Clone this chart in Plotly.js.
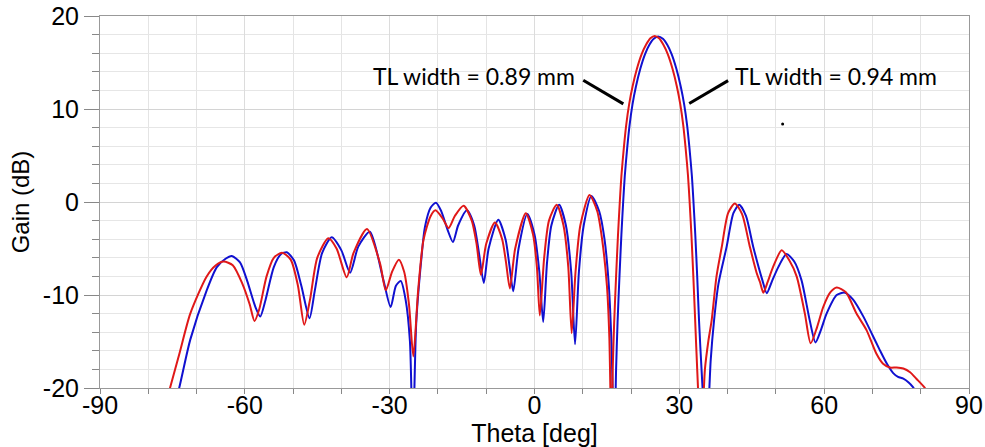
<!DOCTYPE html>
<html>
<head>
<meta charset="utf-8">
<script src="https://cdn.plot.ly/plotly-3.0.1.min.js"></script>
<style>html,body{margin:0;padding:0;background:#fff;}#chart{width:985px;height:447px;}</style>
</head>
<body>
<div id="chart"></div>
<script>
// TL width = 0.89 mm (red)
const redTheta = [-76.5,-75.5,-73.5,-71.3,-67.9,-66.0,-64.4,-62.5,-60.5,-59.0,-58.0,-57.0,-55.5,-54.0,-52.3,-50.5,-49.0,-47.7,-46.5,-45.0,-42.7,-41.0,-38.9,-37.5,-34.7,-32.0,-30.8,-29.5,-28.1,-27.0,-26.0,-25.1,-24.1,-23.0,-21.5,-20.5,-19.0,-17.8,-16.5,-14.7,-13.0,-12.0,-11.1,-10.0,-8.2,-6.7,-5.9,-5.1,-4.0,-1.8,-0.3,0.5,1.1,2.0,3.0,4.6,6.0,7.0,7.7,8.5,9.5,11.4,13.0,14.0,15.0,15.5,15.95,16.2,16.5,16.9,17.3,17.7,18.0,18.5,19.0,19.6,20.3,21.2,22.2,23.1,24.0,24.9,25.8,26.7,27.6,28.6,29.5,30.2,30.8,31.3,31.8,32.1,32.5,32.9,33.3,33.7,34.5,35.3,36.0,36.7,37.7,38.8,40.1,41.5,43.0,44.6,46.0,46.7,47.4,48.3,49.4,51.2,52.8,54.3,56.0,57.2,58.5,59.8,61.3,62.6,64.5,66.7,68.8,70.8,72.2,73.6,75.0,76.4,77.8,79.1,80.8,81.5];
const redGain  = [-21.8,-20.0,-16.2,-12.0,-8.0,-6.8,-6.4,-6.8,-8.8,-11.0,-12.8,-11.5,-8.0,-6.0,-5.45,-6.2,-9.0,-13.2,-10.5,-6.0,-3.9,-5.0,-8.1,-5.5,-2.9,-6.6,-9.5,-7.5,-6.2,-7.5,-11.0,-16.6,-9.5,-4.1,-1.5,-0.9,-1.8,-2.8,-1.5,-0.4,-2.0,-4.5,-7.85,-4.5,-2.2,-4.0,-6.5,-9.3,-5.0,-1.2,-3.5,-7.0,-12.2,-6.0,-2.0,-0.3,-2.5,-7.0,-14.1,-7.5,-2.5,0.75,-1.0,-4.0,-9.0,-14.5,-26.0,-18.0,-13.0,-8.0,-3.5,0.3,2.8,5.8,8.3,10.5,12.4,14.3,15.9,16.9,17.6,17.85,17.6,16.9,15.9,14.3,12.4,10.5,8.3,5.8,2.8,0.3,-3.5,-8.0,-13.0,-18.0,-26.0,-18.0,-15.0,-12.7,-8.0,-4.8,-1.2,-0.15,-1.3,-4.8,-7.6,-8.6,-9.75,-8.6,-7.0,-5.2,-6.3,-8.0,-12.0,-15.2,-13.5,-11.3,-9.7,-9.2,-9.7,-12.0,-13.8,-16.3,-17.4,-17.8,-17.8,-17.9,-18.3,-19.0,-19.95,-20.6];

// TL width = 0.94 mm (blue)
const blueTheta = [-74.6,-73.6,-71.3,-67.9,-65.8,-64.0,-62.7,-61.0,-59.5,-57.8,-56.8,-55.7,-54.0,-52.5,-51.3,-49.8,-48.3,-46.6,-45.5,-44.0,-42.0,-40.0,-38.2,-36.5,-34.1,-31.3,-29.8,-28.7,-27.7,-26.7,-25.8,-25.2,-24.5,-23.4,-22.7,-21.5,-20.4,-19.3,-18.0,-16.9,-15.8,-14.0,-12.5,-11.5,-10.5,-9.5,-7.5,-6.0,-5.2,-4.4,-3.3,-1.5,0.0,1.0,1.8,2.6,3.5,5.1,6.5,7.6,8.4,9.2,10.2,11.8,13.4,14.5,15.4,15.9,16.55,16.9,17.2,17.6,18.0,18.4,18.7,19.2,19.7,20.3,21.0,21.9,22.9,23.8,24.7,25.6,26.6,27.5,28.4,29.4,30.3,31.0,31.6,32.1,32.6,32.9,33.3,33.7,34.1,34.6,35.6,36.5,37.2,38.1,39.8,41.2,42.4,43.8,45.3,47.2,48.1,49.2,50.5,52.2,53.8,55.3,57.0,58.2,59.3,60.5,62.6,64.3,66.0,68.1,70.0,71.5,73.0,74.3,75.3,76.4,77.5,78.4,79.0];
const blueGain  = [-21.8,-20.0,-14.8,-9.5,-7.0,-6.1,-5.8,-6.5,-8.5,-11.3,-12.3,-10.5,-7.0,-5.6,-5.4,-6.3,-9.0,-12.5,-9.5,-5.5,-3.8,-5.2,-7.6,-4.8,-3.2,-8.4,-11.3,-9.0,-8.5,-10.5,-15.0,-26.0,-13.0,-5.9,-2.7,-0.6,-0.07,-1.0,-3.0,-4.3,-2.5,-0.9,-2.5,-5.5,-8.7,-5.0,-1.9,-4.0,-6.8,-9.6,-5.0,-1.3,-3.5,-7.5,-12.9,-6.5,-2.5,-0.3,-2.5,-7.5,-15.3,-7.5,-2.5,0.65,-1.0,-4.0,-9.0,-14.5,-26.0,-18.0,-13.0,-8.0,-3.5,0.3,2.8,5.8,8.3,10.5,12.4,14.3,15.9,16.9,17.55,17.8,17.55,16.9,15.9,14.3,12.4,10.5,8.3,5.8,2.8,0.3,-3.5,-8.0,-13.0,-18.0,-26.0,-17.0,-12.7,-8.8,-4.8,-1.2,-0.3,-1.5,-4.8,-8.4,-9.8,-8.5,-7.0,-5.6,-6.4,-8.4,-12.7,-15.1,-13.8,-12.0,-10.0,-9.75,-10.5,-12.3,-14.3,-15.9,-17.4,-18.4,-18.8,-19.0,-19.4,-19.9,-20.4];

const strayX = [51.4];
const strayY = [8.4];

const xTickVals = [-90,-60,-30,0,30,60,90];
const xTickText = ['-90','-60','-30','0','30','60','90'];
const yTickVals = [-20,-10,0,10,20];
const yTickText = ['-20','-10','0','10','20'];

const labelLeft = 'TL width = 0.89 mm';
const labelRight = 'TL width = 0.94 mm';

const data = [
  {x: blueTheta, y: blueGain, type: 'scatter', mode: 'lines', line: {color: '#1010d0', width: 2, shape: 'spline', smoothing: 0.7}, hoverinfo: 'skip'},
  {x: redTheta, y: redGain, type: 'scatter', mode: 'lines', line: {color: '#e01818', width: 2, shape: 'spline', smoothing: 0.7}, hoverinfo: 'skip'},
  {x: strayX, y: strayY, type: 'scatter', mode: 'markers', marker: {color: '#000', size: 3}, hoverinfo: 'skip'}
];

const tickFont = {family: 'Liberation Sans, Arial, sans-serif', size: 25, color: '#000'};

const layout = {
  width: 985, height: 447,
  margin: {l: 100, r: 16, t: 16, b: 59},
  paper_bgcolor: '#fff', plot_bgcolor: '#fff',
  showlegend: false,
  xaxis: {
    range: [-90, 90], tickmode: 'array', tickvals: xTickVals, ticktext: xTickText,
    ticks: 'outside', ticklen: 5, tickcolor: '#888', tickwidth: 1,
    ticklabelstandoff: -10,
    showgrid: true, gridcolor: '#dcdcdc', gridwidth: 1,
    minor: {tickmode: 'linear', tick0: 0, dtick: 10, ticks: 'outside', ticklen: 5, tickcolor: '#888', showgrid: true, gridcolor: '#e4e4e4', gridwidth: 1},
    showline: true, linecolor: '#999', linewidth: 1, mirror: true, zeroline: false,
    tickfont: tickFont,
    title: {text: 'Theta [deg]', font: {family: 'Liberation Sans, Arial, sans-serif', size: 25, color: '#000'}, standoff: 2}
  },
  yaxis: {
    range: [-20, 20], tickmode: 'array', tickvals: yTickVals, ticktext: yTickText,
    ticks: 'outside', ticklen: 15, tickcolor: '#888', tickwidth: 1,
    showgrid: true, gridcolor: '#d4d4d4', gridwidth: 1,
    minor: {tickmode: 'linear', tick0: 0, dtick: 2, ticks: 'outside', ticklen: 7, tickcolor: '#888', showgrid: true, gridcolor: '#e6e6e6', gridwidth: 1},
    showline: true, linecolor: '#999', linewidth: 1, mirror: true, zeroline: false,
    tickfont: tickFont,
    title: {text: 'Gain (dB)', font: {family: 'Liberation Sans, Arial, sans-serif', size: 24, color: '#000'}, standoff: 6}
  },
  annotations: [
    {x: 8.8, y: 13.6, xref: 'x', yref: 'y', text: labelLeft, showarrow: false, xanchor: 'right', yanchor: 'middle', font: {family: 'Lato, Carlito, sans-serif', size: 23, color: '#000'}},
    {x: 41.1, y: 13.6, xref: 'x', yref: 'y', text: labelRight, showarrow: false, xanchor: 'left', yanchor: 'middle', font: {family: 'Lato, Carlito, sans-serif', size: 23, color: '#000'}}
  ],
  shapes: [
    {type: 'line', xref: 'x', yref: 'y', x0: 10.1, y0: 13.1, x1: 18.4, y1: 10.55, line: {color: '#000', width: 3}},
    {type: 'line', xref: 'x', yref: 'y', x0: 40.1, y0: 13.05, x1: 32.05, y1: 10.6, line: {color: '#000', width: 3}}
  ]
};

Plotly.newPlot('chart', data, layout, {staticPlot: true, displayModeBar: false});
</script>
</body>
</html>
